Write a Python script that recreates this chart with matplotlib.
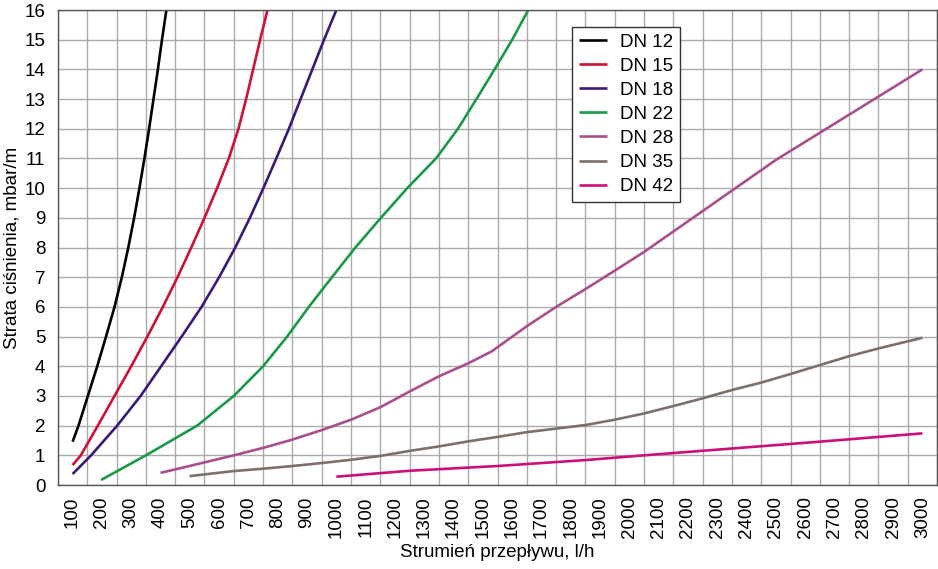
import numpy as np
import matplotlib.pyplot as plt
from matplotlib.ticker import MultipleLocator

plt.rcParams["font.family"] = ["Liberation Sans", "DejaVu Sans"]

# flow (l/h) vs pressure loss (mbar/m)
dn12_x = [100, 120, 152, 184, 214, 243, 268, 290, 310, 328, 345, 361, 376, 391, 405, 420]
dn12_y = [1.46, 2, 3, 4, 5, 6, 7, 8, 9, 10, 11, 12, 13, 14, 15, 16]

dn15_x = [100, 128, 186, 243, 300, 355, 408, 458, 505, 550, 593, 633, 666, 692, 716, 740, 765]
dn15_y = [0.67, 1, 2, 3, 4, 5, 6, 7, 8, 9, 10, 11, 12, 13, 14, 15, 16]

dn18_x = [100, 163, 252, 332, 402, 472, 540, 600, 655, 705, 751, 795, 838, 878, 918, 958, 1000]
dn18_y = [0.37, 1, 2, 3, 4, 5, 6, 7, 8, 9, 10, 11, 12, 13, 14, 15, 16]

dn22_x = [197, 350, 525, 650, 750, 832, 906, 985, 1065, 1152, 1242, 1340, 1415, 1478, 1540, 1600, 1655]
dn22_y = [0.17, 1, 2, 3, 4, 5, 6, 7, 8, 9, 10, 11, 12, 13, 14, 15, 16]

dn28_x = [400, 465, 650, 750, 850, 950, 1050, 1150, 1250, 1350, 1450, 1530,
          1650, 1750, 1850, 1950, 2050, 2500, 3000]
dn28_y = [0.41, 0.56, 1.0, 1.25, 1.53, 1.85, 2.2, 2.62, 3.15, 3.66, 4.1, 4.5,
          5.35, 6.0, 6.6, 7.22, 7.85, 10.95, 14.0]

dn35_x = [499, 650, 750, 850, 950, 1050, 1150, 1250, 1350, 1450, 1550, 1650, 1750,
          1850, 1950, 2050, 2150, 2250, 2350, 2450, 2550, 2650, 2750, 2850, 3000]
dn35_y = [0.30, 0.47, 0.55, 0.64, 0.74, 0.85, 0.98, 1.15, 1.3, 1.47, 1.62, 1.78, 1.9,
          2.02, 2.2, 2.41, 2.66, 2.92, 3.2, 3.45, 3.74, 4.04, 4.34, 4.6, 4.96]

dn42_x = [1000, 1250, 1550, 1850, 2050, 2350, 2650, 3000]
dn42_y = [0.28, 0.48, 0.64, 0.84, 1.0, 1.23, 1.46, 1.74]

labels = ["DN 12", "DN 15", "DN 18", "DN 22", "DN 28", "DN 35", "DN 42"]
colors = ["#000000", "#cc1236", "#3a1a78", "#1a9a48", "#a8508c", "#7c706a", "#cc107a"]
series = [(dn12_x, dn12_y), (dn15_x, dn15_y), (dn18_x, dn18_y), (dn22_x, dn22_y),
          (dn28_x, dn28_y), (dn35_x, dn35_y), (dn42_x, dn42_y)]

fig = plt.figure(figsize=(9.38, 5.69), dpi=100)
ax = fig.add_axes([0.0618, 0.1476, 0.9372, 0.8348])

for (xs, ys), lab, col in zip(series, labels, colors):
    ax.plot(xs, ys, color=col, linewidth=1.9, label=lab,
            solid_capstyle="butt", solid_joinstyle="round")

ax.set_xlim(50, 3050)
ax.set_ylim(0, 16)
ax.set_xticks(np.arange(100, 3001, 100))
ax.xaxis.set_minor_locator(MultipleLocator(100, offset=50))
ax.set_yticks(np.arange(0, 17, 1))

ax.grid(False)
ax.grid(which="minor", axis="x", color="#ababab", linewidth=1.0)
ax.grid(which="major", axis="y", color="#ababab", linewidth=1.0)
ax.set_axisbelow(True)

ax.tick_params(axis="x", which="both", length=0, pad=8, labelsize=13.5, labelrotation=90)
ax.tick_params(axis="y", length=0, pad=9, labelsize=13.5)

for s in ax.spines.values():
    s.set_color("#555555")
    s.set_linewidth(1.0)

ax.set_xlabel("Strumień przepływu, l/h", fontsize=13.5)
ax.xaxis.set_label_coords(0.5, -0.124)
ax.xaxis.label.set_va("top")
ax.set_ylabel("Strata ciśnienia, mbar/m", fontsize=13.5)
ax.yaxis.set_label_coords(-0.043, 0.5)

leg = ax.legend(loc="upper left", bbox_to_anchor=(0.585, 0.964), fontsize=13.5,
                frameon=True, fancybox=False, handlelength=1.5, handletextpad=0.7,
                labelspacing=0.37, borderpad=0.35, borderaxespad=0)
leg.get_frame().set_edgecolor("#333333")
leg.get_frame().set_linewidth(1.0)
leg.get_frame().set_alpha(1)

fig.savefig("out.png", dpi=100)
plt.close(fig)
